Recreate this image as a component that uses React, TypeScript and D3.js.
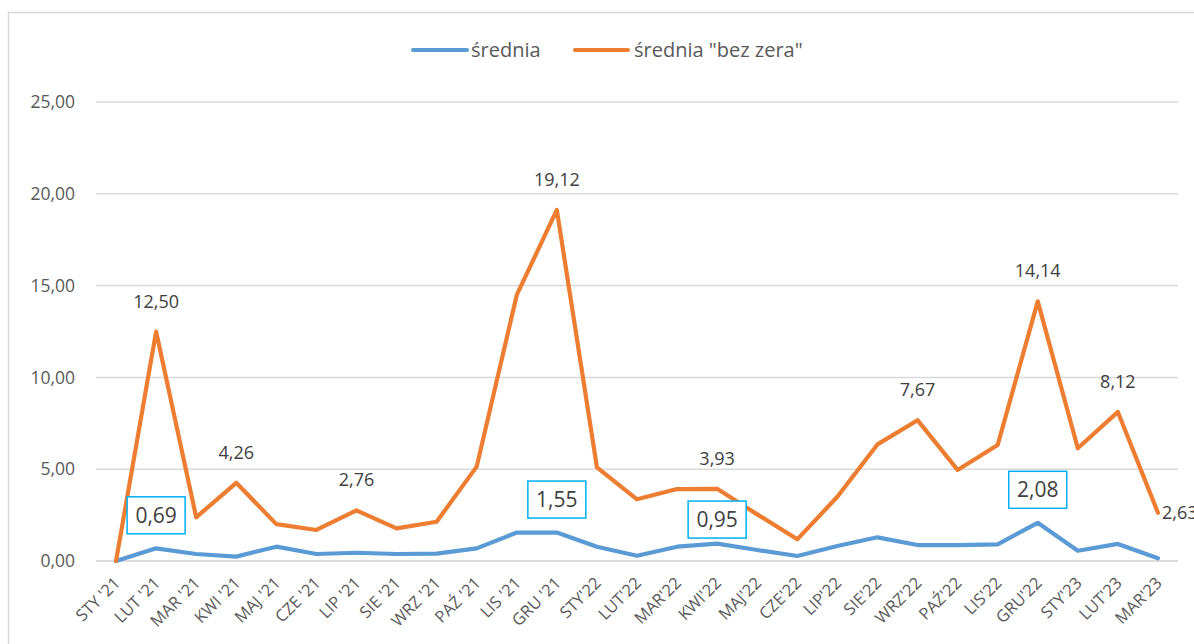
import React from "react";
import * as d3 from "d3";

const categories = [
  "STY '21", "LUT '21", "MAR '21", "KWI '21", "MAJ '21", "CZE '21", "LIP '21", "SIE '21", "WRZ '21",
  "PAŹ '21", "LIS '21", "GRU '21", "STY'22", "LUT'22", "MAR'22", "KWI'22", "MAJ'22", "CZE'22",
  "LIP'22", "SIE'22", "WRZ'22", "PAŹ'22", "LIS'22", "GRU'22", "STY'23", "LUT'23", "MAR'23",
];

const sredniaValues = [
  0, 0.69, 0.38, 0.24, 0.78, 0.38, 0.45, 0.38, 0.4, 0.69, 1.55, 1.55, 0.78, 0.29, 0.78, 0.95,
  0.6, 0.27, 0.82, 1.29, 0.87, 0.87, 0.91, 2.08, 0.56, 0.93, 0.15,
];

const bezZeraValues = [
  0, 12.5, 2.38, 4.26, 2.01, 1.69, 2.76, 1.78, 2.14, 5.14, 14.49, 19.12, 5.1, 3.36, 3.92, 3.93,
  2.54, 1.18, 3.5, 6.35, 7.67, 4.96, 6.32, 14.14, 6.14, 8.12, 2.63,
];

const yTicks = [0, 5, 10, 15, 20, 25];

const seriesNames = ["średnia", "średnia \"bez zera\""];

// indices of labelled points
const bezZeraLabelIdx = [1, 3, 6, 11, 15, 20, 23, 25];
const bezZeraRightLabelIdx = [26];
const sredniaLabelIdx = [1, 11, 15, 23];

const W = 1194;
const H = 644;
const FONT = "'Open Sans', 'Noto Sans', sans-serif";
const BLUE = "#5B9BD5";
const ORANGE = "#ED7D31";
const GRID = "#d9d9d9";
const TXT = "#595959";
const LBL = "#404040";

const fmt = (v: number) => d3.format(".2f")(v).replace(".", ",");

export default function App() {
  const x = d3.scaleBand<string>().domain(categories).range([96, 1178]).padding(0);
  const cx = (i: number) => (x(categories[i]) as number) + x.bandwidth() / 2;
  const y = d3.scaleLinear().domain([0, 25]).range([561, 102]);

  const line = d3
    .line<number>()
    .x((_, i) => cx(i))
    .y((d) => y(d));

  const boxOffset = (i: number) => (i === 15 ? -24 : -33);

  return (
    <svg
      width={W}
      height={H}
      style={{ position: "absolute", left: 0, top: 0, background: "#fff" }}
      fontFamily={FONT}
    >
      <rect x={8.5} y={12.5} width={W + 20} height={H + 20} fill="#fff" stroke={GRID} strokeWidth={1.5} />

      {/* legend */}
      <g>
        <line x1={413} x2={467} y1={50} y2={50} stroke={BLUE} strokeWidth={4} strokeLinecap="round" />
        <text x={471} y={50} dy="0.35em" fontSize={20} fill={TXT}>{seriesNames[0]}</text>
        <line x1={575} x2={628} y1={50} y2={50} stroke={ORANGE} strokeWidth={4} strokeLinecap="round" />
        <text x={634} y={50} dy="0.35em" fontSize={20} fill={TXT}>{seriesNames[1]}</text>
      </g>

      {/* grid + y ticks */}
      {yTicks.map((t) => (
        <g key={t}>
          <line x1={96} x2={1178} y1={y(t)} y2={y(t)} stroke={t === 0 ? "#d0d0d0" : GRID} strokeWidth={1.5} />
          <text x={75} y={y(t)} dy="0.35em" textAnchor="end" fontSize={17.5} fill={TXT}>
            {fmt(t)}
          </text>
        </g>
      ))}

      {/* x labels */}
      {categories.map((c, i) => (
        <text
          key={c}
          transform={`translate(${cx(i) + 1},${580}) rotate(-45)`}
          textAnchor="end"
          dy="0.35em"
          fontSize={16.5}
          fill={TXT}
        >
          {c}
        </text>
      ))}

      {/* series */}
      <path d={line(sredniaValues) || ""} fill="none" stroke={BLUE} strokeWidth={4.2} strokeLinejoin="round" strokeLinecap="round" />
      <path d={line(bezZeraValues) || ""} fill="none" stroke={ORANGE} strokeWidth={4.2} strokeLinejoin="round" strokeLinecap="round" />

      {/* orange labels */}
      {bezZeraLabelIdx.map((i) => (
        <text key={"o" + i} x={cx(i)} y={y(bezZeraValues[i]) - 24} textAnchor="middle" fontSize={18} fill={LBL}>
          {fmt(bezZeraValues[i])}
        </text>
      ))}
      {bezZeraRightLabelIdx.map((i) => (
        <text key={"or" + i} x={cx(i) + 4} y={y(bezZeraValues[i])} dy="0.35em" textAnchor="start" fontSize={18} fill={LBL}>
          {fmt(bezZeraValues[i])}
        </text>
      ))}

      {/* blue boxed labels */}
      {sredniaLabelIdx.map((i) => {
        const cy = y(sredniaValues[i]) + boxOffset(i);
        return (
          <g key={"b" + i}>
            <rect x={cx(i) - 29} y={cy - 18.5} width={58} height={37} fill="#fff" stroke="#00B0F0" strokeWidth={1.5} />
            <text x={cx(i)} y={cy} dy="0.36em" textAnchor="middle" fontSize={21} fill={LBL}>
              {fmt(sredniaValues[i])}
            </text>
          </g>
        );
      })}
    </svg>
  );
}
